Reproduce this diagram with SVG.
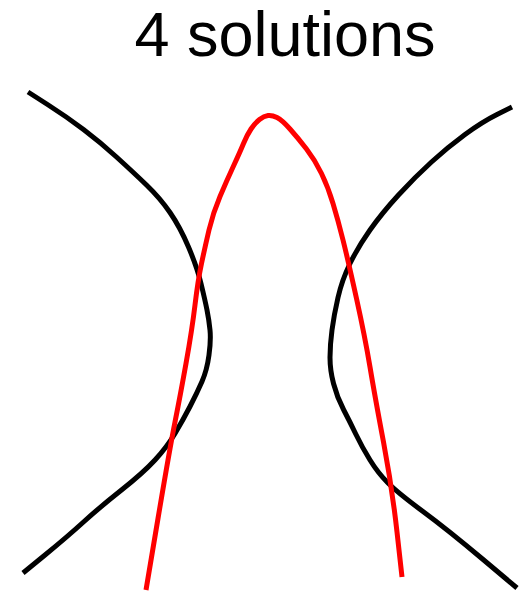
<svg xmlns="http://www.w3.org/2000/svg" width="531" height="593" viewBox="0 0 531 593">
<style>
.c{fill:none;stroke-width:5;stroke-linejoin:round;stroke-linecap:butt}
.k{stroke:#000}
.r{stroke:#f00}
.t{font-family:"Liberation Sans",Arial,sans-serif;font-size:63px;fill:#000}
</style>
<rect width="531" height="593" fill="#fff"/>
<g id="title"><text class="t" x="285" y="56" text-anchor="middle">4 solutions</text></g>
<g id="curves">
<path id="left-branch" class="c k" d="M28,92 L47.5,104.5 Q67,117 83.5,129.5 Q100,142 116.5,157 Q133,172 146.5,185 Q160,198 170,212.5 Q180,227 188.5,247 Q197,267 201,283.5 Q205,300 207,310 Q209,320 210,330 Q211,340 209,355 Q207,370 202,381.5 Q197,393 190,406.5 Q183,420 175,433.5 Q167,447 155,460 Q143,473 121.5,490 Q100,507 83.5,522 Q67,537 45,555 L23,573"/>
<path id="right-branch" class="c k" d="M512,107 L497,114.5 Q482,122 465,134.5 Q448,147 431.5,162 Q415,177 398.5,195 Q382,213 370,230 Q358,247 350,263.5 Q342,280 338,297.5 Q334,315 332,330 Q330,345 330,357.5 Q330,370 333.5,383.5 Q337,397 343.5,409.5 Q350,422 356,434.5 Q362,447 370,460 Q378,473 388,483 Q398,493 423,511.5 Q448,530 482.5,559 L517,588"/>
<path id="parabola" class="c r" d="M146,590 L158,518.5 Q170,447 175,422 Q180,397 186,363.5 Q192,330 195,305 Q198,280 201.5,263.5 Q205,247 209,230 Q213,213 220,196.5 Q227,180 233.5,166 Q240,152 243.5,143.5 Q247,135 251,129 Q255,123 259.5,119.5 Q264,116 268,115.5 Q272,115 277,117.5 Q282,120 290,129 Q298,138 306.5,149 Q315,160 321.5,173.5 Q328,187 333,203.5 Q338,220 343,240 Q348,260 356.5,298.5 Q365,337 370,367 Q375,397 383.5,442 Q392,487 397,532 L402,577"/>
</g>
</svg>
